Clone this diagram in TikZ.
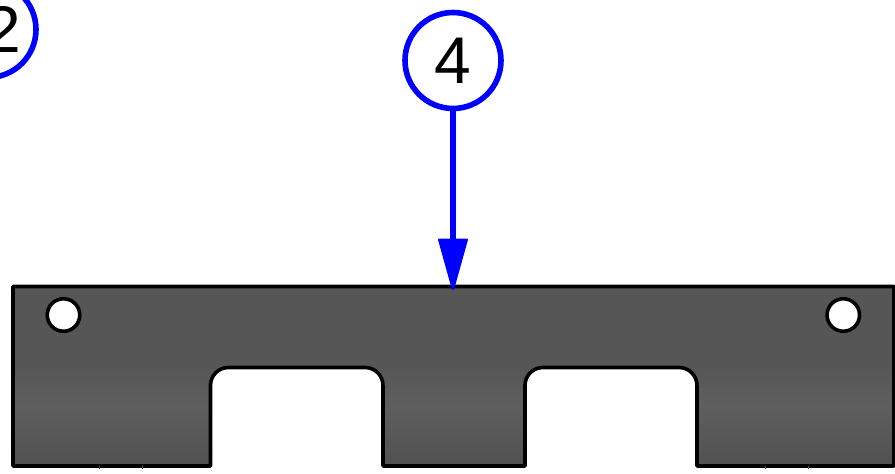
\documentclass[tikz,border=0pt]{standalone}
\usepackage{fontspec}
\setmainfont{Liberation Sans}
\usetikzlibrary{arrows.meta}
\definecolor{calloutblue}{RGB}{0,0,255}
\definecolor{platetop}{RGB}{86,86,86}
\definecolor{platemid}{RGB}{94,94,94}
\definecolor{platelow}{RGB}{80,80,80}
\tikzset{
  callout/.style={circle,draw=calloutblue,line width=5.6pt,fill=white,inner sep=0pt,
    minimum size=96pt,text=black,font=\fontsize{66}{66}\selectfont},
  digit/.style={inner sep=0pt,text=black,font=\fontsize{66}{66}\selectfont},
  leader/.style={draw=calloutblue,line width=5.8pt,
    -{Triangle[length=55pt,width=30pt,round,line width=2.5pt]}},
  outline/.style={draw=black,line width=3.6pt,line join=round},
  hole/.style={circle,draw=black,line width=3.6pt,fill=white,inner sep=0pt,minimum size=32.5pt},
  tick/.style={draw=black!70,line width=0.8pt}
}
\def\plate{(13,286.5) -- (894,286.5) -- (894,466) -- (697,466) -- (697,385.5)
  .. controls (697,375.5) and (689,367.5) .. (679,367.5) -- (543,367.5)
  .. controls (533,367.5) and (525,375.5) .. (525,385.5) -- (525,466) -- (383,466) -- (383,385.5)
  .. controls (383,375.5) and (375,367.5) .. (365,367.5) -- (228.5,367.5)
  .. controls (218.5,367.5) and (210.5,375.5) .. (210.5,385.5) -- (210.5,466) -- (13,466) -- cycle}
\begin{document}
\begin{tikzpicture}[x=1pt,y=-1pt]
\useasboundingbox (0,0) rectangle (895,474);
\clip (0,0) rectangle (895,474);
\begin{scope}
  \clip \plate;
  \fill[platetop] (0,280) rectangle (895,365);
  \shade[top color=platetop,bottom color=platemid] (0,365) rectangle (895,405);
  \shade[top color=platemid,bottom color=platelow] (0,405) rectangle (895,470);
\end{scope}
\draw[outline] \plate;
\foreach \x in {99,142,765,808} \draw[tick] (\x,466) -- (\x,468.5);
\node[hole] (holeL) at (63.5,315) {};
\node[hole] (holeR) at (843.3,315) {};
\coordinate (tip) at (453,290);
\node[callout] (two) at (-12,29.5) {};
\node[digit] (twotext) at (3,29.5) {2};
\node[callout] (four) at (453,60.5) {4};
\draw[leader] (four.south) -- (tip);
\end{tikzpicture}
\end{document}
